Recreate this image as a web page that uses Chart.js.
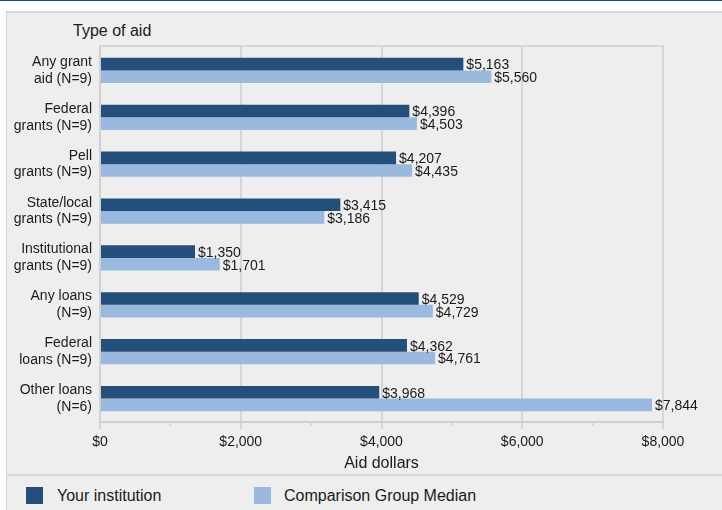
<!DOCTYPE html>
<html>
<head>
<meta charset="utf-8">
<script src="https://cdn.jsdelivr.net/npm/chart.js@4/dist/chart.umd.min.js"></script>
<style>
  body { margin: 0; width: 722px; height: 510px; background: #fff; font-family: "Liberation Sans", Arial, sans-serif; color: #1a1a1a; overflow: hidden; position: relative; }
  #topline { position: absolute; left: 0; top: 0; width: 722px; height: 1px; background: #1f4e79; }
  #panel { position: absolute; left: 6px; top: 11px; width: 716px; height: 499px; background: #eeeeee; border-left: 1px solid #d2d2d2; border-top: 2px solid #d8d8d8; box-sizing: border-box; }
  #sep { position: absolute; left: 6px; top: 474px; width: 716px; height: 2px; background: #d8d8d8; }
  #wrap { position: absolute; left: 0; top: 0; width: 722px; height: 476px; }
  #ytitle { position: absolute; left: 73px; top: 22px; font-size: 16px; }
  .leg { position: absolute; top: 487px; font-size: 16px; line-height: 17px; }
  .leg span { position: absolute; top: 0; width: 17px; height: 17px; }
</style>
</head>
<body>
<div id="topline"></div>
<div id="panel"></div>
<div id="sep"></div>
<div id="ytitle">Type of aid</div>
<div id="wrap"><canvas id="chart"></canvas></div>
<div id="legend"></div>

<script>
// Данные графика
const categories = [
  ["Any grant", "aid (N=9)"],
  ["Federal", "grants (N=9)"],
  ["Pell", "grants (N=9)"],
  ["State/local", "grants (N=9)"],
  ["Institutional", "grants (N=9)"],
  ["Any loans", "(N=9)"],
  ["Federal", "loans (N=9)"],
  ["Other loans", "(N=6)"],
];
const seriesNames = ["Your institution", "Comparison Group Median"];
const yourInstitution = [5163, 4396, 4207, 3415, 1350, 4529, 4362, 3968];
const comparisonMedian = [5560, 4503, 4435, 3186, 1701, 4729, 4761, 7844];
const xTicks = [0, 2000, 4000, 6000, 8000];
const minorTicks = [1000, 3000, 5000, 7000];

const colors = ["#254f7b", "#9ab9de"];
const FONT = "'Liberation Sans', Arial, sans-serif";

function money(v) {
  return "$" + v.toLocaleString("en-US");
}

// Легенда в HTML
const legend = document.getElementById("legend");
const legendPos = [[26, 57], [254, 284]];
seriesNames.forEach((name, i) => {
  const d = document.createElement("div");
  d.className = "leg";
  d.style.left = legendPos[i][1] + "px";
  const box = document.createElement("span");
  box.style.left = (legendPos[i][0] - legendPos[i][1]) + "px";
  box.style.background = colors[i];
  d.appendChild(box);
  d.appendChild(document.createTextNode(name));
  legend.appendChild(d);
});

// Плагин: рамка области, мелкие засечки и подписи значений
const extrasPlugin = {
  id: "extras",
  beforeDatasetsDraw(chart) {
    const { ctx, chartArea, scales } = chart;
    ctx.save();
    ctx.strokeStyle = "#d6d6d6";
    ctx.lineWidth = 2;
    ctx.beginPath();
    ctx.moveTo(chartArea.left - 1, chartArea.top - 1);
    ctx.lineTo(chartArea.right + 1, chartArea.top - 1);
    minorTicks.forEach((v) => {
      const x = scales.x.getPixelForValue(v);
      ctx.moveTo(x, chartArea.bottom);
      ctx.lineTo(x, chartArea.bottom + 4);
    });
    ctx.stroke();
    ctx.restore();
  },
  afterDatasetsDraw(chart) {
    const { ctx } = chart;
    ctx.save();
    ctx.font = "14px " + FONT;
    ctx.fillStyle = "#1a1a1a";
    ctx.textAlign = "left";
    ctx.textBaseline = "middle";
    chart.data.datasets.forEach((ds, i) => {
      chart.getDatasetMeta(i).data.forEach((bar, j) => {
        ctx.fillText(money(ds.data[j]), bar.x + 3, bar.y + 1.5);
      });
    });
    ctx.restore();
  },
};

const ctx = document.getElementById("chart").getContext("2d");
new Chart(ctx, {
  type: "bar",
  data: {
    labels: categories,
    datasets: [
      { label: seriesNames[0], data: yourInstitution, backgroundColor: colors[0] },
      { label: seriesNames[1], data: comparisonMedian, backgroundColor: colors[1] },
    ],
  },
  options: {
    indexAxis: "y",
    responsive: true,
    maintainAspectRatio: false,
    animation: false,
    layout: { padding: { top: 47, right: 59, left: 0, bottom: 0 } },
    datasets: { bar: { categoryPercentage: 0.54, barPercentage: 1.0, borderWidth: 0 } },
    plugins: { legend: { display: false }, tooltip: { enabled: false } },
    scales: {
      x: {
        min: 0,
        max: 8000,
        afterBuildTicks(scale) {
          scale.ticks = xTicks.map((v) => ({ value: v }));
        },
        afterFit(scale) {
          scale.height = 54;
        },
        ticks: {
          callback: (v) => money(v),
          color: "#1a1a1a",
          font: { family: FONT, size: 14 },
          padding: 5,
        },
        grid: { color: "#d6d6d6", lineWidth: 2, tickLength: 7, tickColor: "#d6d6d6" },
        border: { color: "#d0d0d0", width: 2 },
        title: {
          display: true,
          text: "Aid dollars",
          color: "#1a1a1a",
          font: { family: FONT, size: 16 },
          padding: { top: 0, bottom: 3 },
        },
      },
      y: {
        afterFit(scale) {
          scale.width = 100;
        },
        ticks: {
          color: "#1a1a1a",
          font: { family: FONT, size: 14, lineHeight: 1.2 },
          padding: 8,
        },
        grid: { display: false, drawTicks: false },
        border: { display: true, color: "#d0d0d0", width: 2 },
      },
    },
  },
  plugins: [extrasPlugin],
});
</script>
</body>
</html>
